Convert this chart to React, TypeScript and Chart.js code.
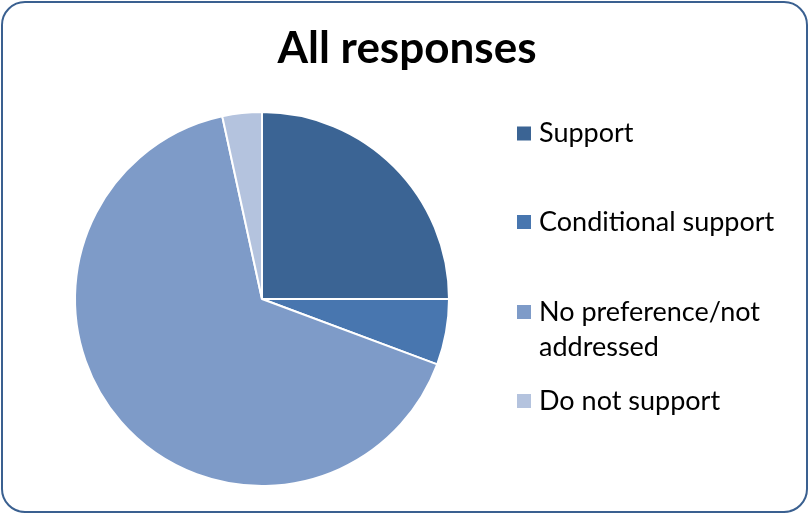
import React, { useEffect, useRef } from "react";
import { Chart, registerables } from "chart.js";

Chart.register(...registerables);

const TITLE = "All responses";
const CATEGORIES: string[][] = [
  ["Support"],
  ["Conditional support"],
  ["No preference/not", "addressed"],
  ["Do not support"],
];
const VALUES = [22, 5, 58, 3];
const COLORS = ["#3B6494", "#4876AF", "#7E9BC8", "#B4C3DE"];

const overlayPlugin = {
  id: "overlay",
  afterDraw(chart: any) {
    const ctx = chart.ctx as CanvasRenderingContext2D;
    ctx.save();
    // title
    ctx.fillStyle = "#000";
    ctx.font = "bold 44px Lato";
    ctx.textAlign = "center";
    ctx.textBaseline = "alphabetic";
    ctx.fillText(TITLE, 407, 63);
    // legend
    const tops = [126.5, 215, 305, 394];
    ctx.textAlign = "left";
    ctx.font = "27px Lato";
    const labels = chart.data.labels as string[][];
    const colors = chart.data.datasets[0].backgroundColor as string[];
    labels.forEach((lines, i) => {
      const y = tops[i];
      ctx.fillStyle = colors[i];
      ctx.fillRect(517, y, 14, 14);
      ctx.fillStyle = "#000";
      lines.forEach((ln, j) => {
        ctx.fillText(ln, 539, y + 15.5 + j * 35);
      });
    });
    ctx.restore();
  },
};

export default function App() {
  const ref = useRef<HTMLCanvasElement | null>(null);
  useEffect(() => {
    document.body.style.margin = "0";
    const chart = new Chart(ref.current!, {
      type: "pie",
      data: {
        labels: CATEGORIES as any,
        datasets: [
          {
            data: VALUES,
            backgroundColor: COLORS,
            borderColor: "#ffffff",
            borderWidth: 2,
          },
        ],
      },
      options: {
        animation: false,
        responsive: false,
        layout: { padding: { left: 74, top: 111, right: 360, bottom: 28 } },
        plugins: {
          legend: { display: false },
          title: { display: false },
          tooltip: { enabled: false },
        },
      },
      plugins: [overlayPlugin],
    });
    return () => chart.destroy();
  }, []);
  return (
    <div style={{ position: "relative", width: 810, height: 515, background: "#fff" }}>
      <canvas ref={ref} width={810} height={515} style={{ position: "absolute", left: 0, top: 0 }} />
      <div
        style={{
          position: "absolute",
          left: 1,
          top: 1,
          width: 807,
          height: 512,
          boxSizing: "border-box",
          border: "2px solid #3A6090",
          borderRadius: 24,
          pointerEvents: "none",
        }}
      />
    </div>
  );
}
